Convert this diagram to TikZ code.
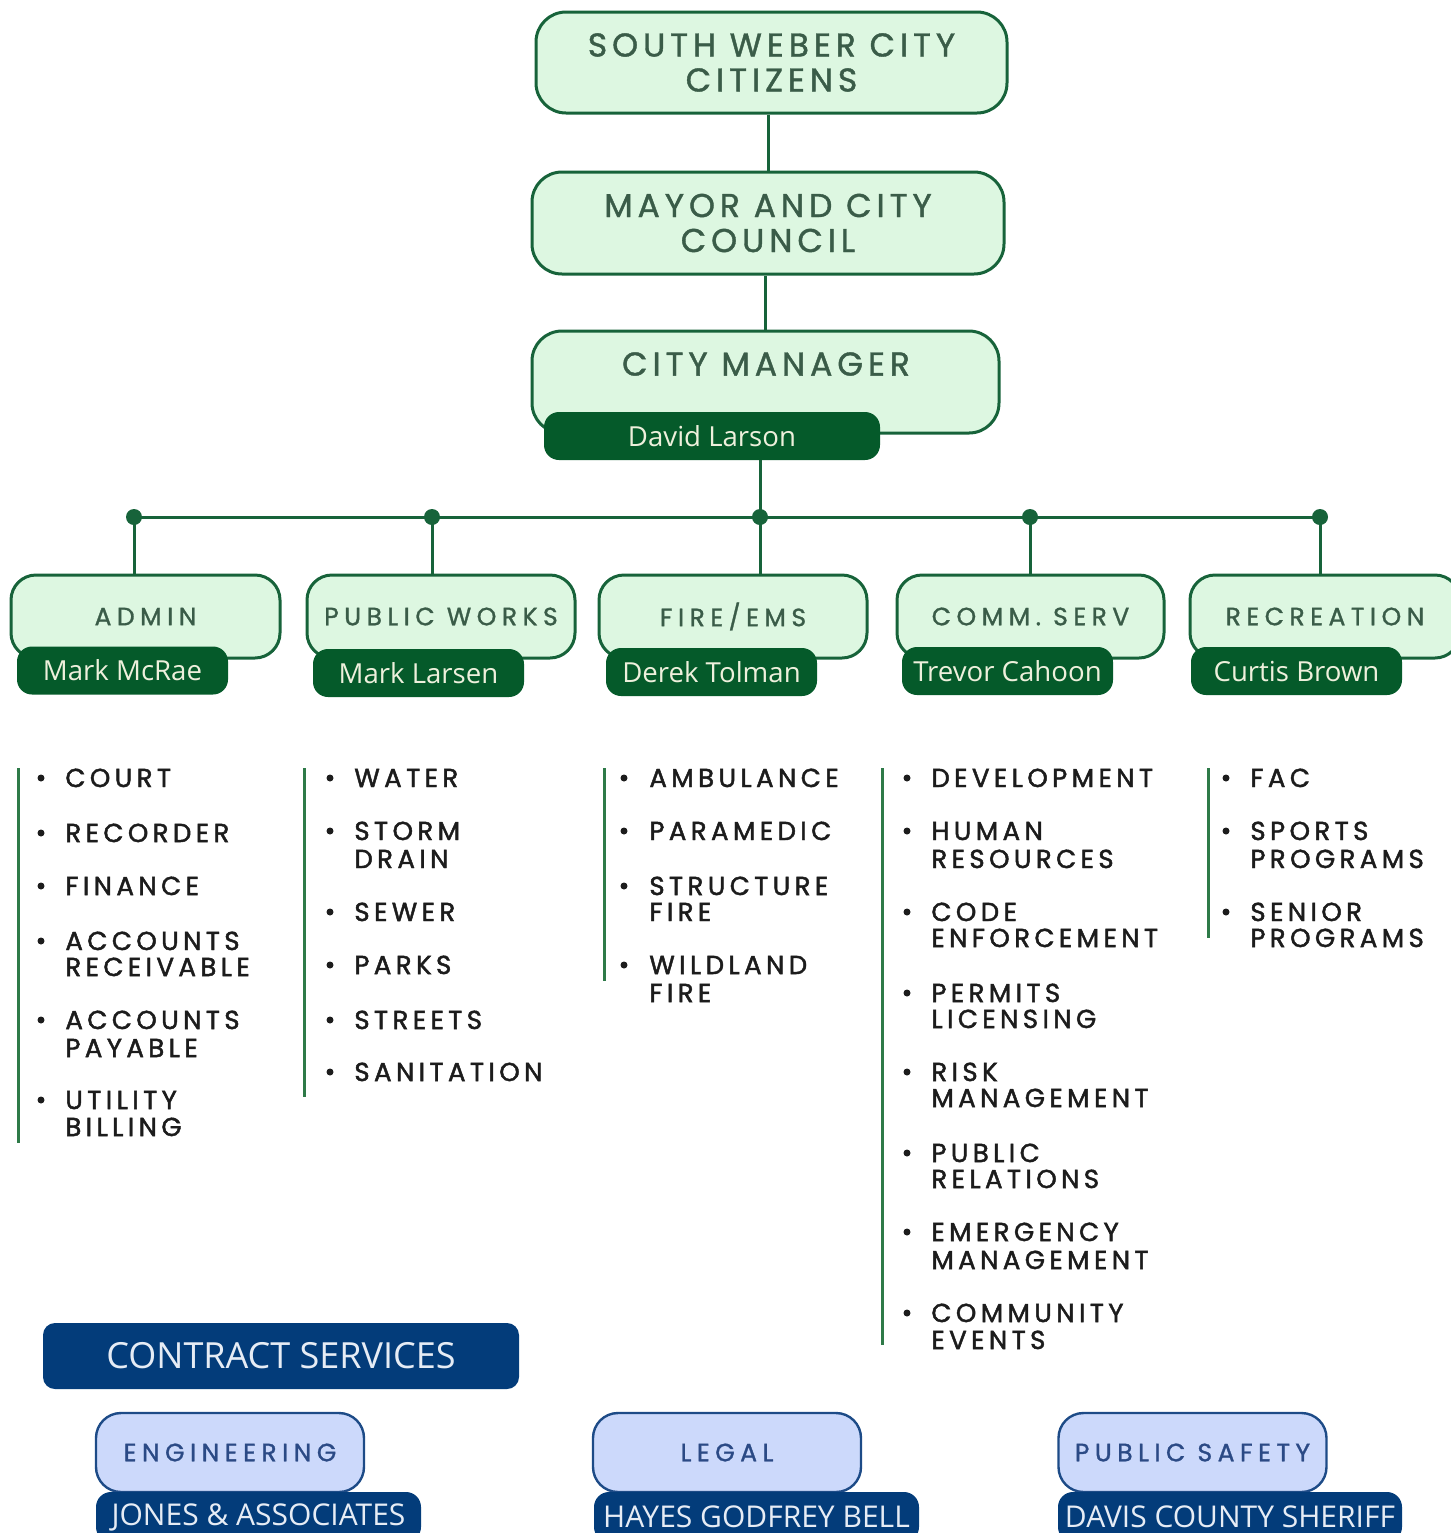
\documentclass[tikz,border=0pt]{standalone}
\usepackage{fontspec}
\setmainfont{Poppins}
\newfontfamily\headf[LetterSpace=15,FakeBold=1.2]{Poppins}
\newfontfamily\deptf[LetterSpace=22,FakeBold=1.2]{Poppins}
\newfontfamily\listf[LetterSpace=17,FakeBold=1.8]{Poppins}
\newfontfamily\namef{Open Sans}
\definecolor{gline}{HTML}{17633A}
\definecolor{gfill}{HTML}{DDF7E1}
\definecolor{gdark}{HTML}{055A2A}
\definecolor{gtext}{HTML}{3A5C48}
\definecolor{ncream}{HTML}{EEF0DC}
\definecolor{ltext}{HTML}{1C1C1C}
\definecolor{lgreen}{HTML}{2E7A48}
\definecolor{navy}{HTML}{033C7A}
\definecolor{bfill}{HTML}{CCD9FB}
\definecolor{bline}{HTML}{1D4B87}
\definecolor{btext}{HTML}{2B4A85}
\definecolor{bcream}{HTML}{E6ECF5}
\newcommand\litem[4]{%
  \node[bull] (bu#1x#3) at (#1,#3) {};
  \node[li] (it#2x#3) at (#2,#3+9) {#4};}
\newcommand\lline[3]{\node[li] (it#1x#2) at (#1,#2+9) {#3};}
\begin{document}
\begin{tikzpicture}[x=0.5pt,y=-0.5pt,
  gbox/.style={draw=gline, fill=gfill, line width=1.5pt, rounded corners=12.5pt, inner sep=0pt},
  tbox/.style={gbox, rounded corners=15pt, align=center, text=gtext, font=\headf\fontsize{16.5}{17.5}\selectfont},
  nbox/.style={fill=gdark, rounded corners=7.5pt, inner sep=0pt, text=ncream, font=\namef\fontsize{13.8}{15}\selectfont, minimum width=105.5pt, minimum height=24pt},
  dtext/.style={text=gtext, font=\deptf\fontsize{12.5}{14}\selectfont},
  li/.style={font=\listf\fontsize{13}{14}\selectfont, text=ltext, anchor=base west, inner sep=0pt},
  bull/.style={circle, fill=ltext, inner sep=0pt, minimum size=3.5pt},
  vline/.style={draw=lgreen, line width=1.5pt},
  conn/.style={draw=gline, line width=1.5pt},
  dot/.style={circle, fill=gline, minimum size=8pt, inner sep=0pt},
  bbox/.style={draw=bline, fill=bfill, line width=1.2pt, rounded corners=12.5pt, inner sep=0pt, text=btext, font=\deptf\fontsize{12.5}{14}\selectfont, minimum width=134pt, minimum height=39.5pt},
  nvbox/.style={fill=navy, rounded corners=7.5pt, inner sep=0pt, text=bcream, font=\namef\fontsize{15}{16}\selectfont}
]
\useasboundingbox (0,0) rectangle (1451,1533);

% top chain
\node[tbox, minimum width=235.5pt, minimum height=50.5pt] (cit) at (771.5,62.5) {SOUTH WEBER CITY\\CITIZENS};
\node[tbox, minimum width=236pt, minimum height=51pt] (may) at (768,223) {MAYOR AND CITY\\COUNCIL};
\node[gbox, rounded corners=15pt, minimum width=233.5pt, minimum height=51pt] (mgr) at (765.5,382) {};
\node[text=gtext, font=\headf\fontsize{16.5}{17.5}\selectfont] (mgrt) at (766,364) {CITY MANAGER};
\node[nbox, minimum width=168pt, minimum height=24pt] (dl) at (712,436) {David Larson};
\draw[conn] (cit.south -| may.north) -- (may.north);
\draw[conn] (may.south -| mgr.north) -- (mgr.north);

% bus
\coordinate (d1) at (134,517);
\coordinate (d2) at (432,517);
\coordinate (d3) at (760,517);
\coordinate (d4) at (1030,517);
\coordinate (d5) at (1320,517);
\draw[conn] (d3) -- (d3 |- dl.south);
\draw[conn] (d1) -- (d5);

% departments
\node[gbox, dtext, minimum width=134.5pt, minimum height=41.5pt] (adm) at (145.5,616.5) {ADMIN};
\node[gbox, dtext, minimum width=134pt, minimum height=41.5pt] (pw) at (441,616.5) {PUBLIC WORKS};
\node[gbox, dtext, minimum width=134pt, minimum height=41.5pt] (fire) at (733,616.5) {FIRE/EMS};
\node[gbox, dtext, minimum width=133.5pt, minimum height=41.5pt] (comm) at (1030.5,616.5) {COMM. SERV};
\node[gbox, dtext, minimum width=135pt, minimum height=41.5pt] (rec) at (1325,616.5) {RECREATION};
\foreach \d/\b in {d1/adm,d2/pw,d3/fire,d4/comm,d5/rec}{
  \draw[conn] (\d) -- (\d |- \b.north);
  \node[dot] at (\d) {};
}
\node[nbox] (n1) at (122.5,670.5) {Mark McRae};
\node[nbox] (n2) at (418.5,673) {Mark Larsen};
\node[nbox] (n3) at (711.5,672) {Derek Tolman};
\node[nbox] (n4) at (1007.5,671) {Trevor Cahoon};
\node[nbox] (n5) at (1296.5,671) {Curtis Brown};

% list lines
\draw[vline] (18,768) -- (18,1143);
\draw[vline] (304,768) -- (304,1097);
\draw[vline] (604,768) -- (604,981);
\draw[vline] (882,768) -- (882,1345);
\draw[vline] (1208,768) -- (1208,938);

% column 1
\litem{41}{65}{778}{COURT}
\litem{41}{65}{833}{RECORDER}
\litem{41}{65}{886}{FINANCE}
\litem{41}{65}{941}{ACCOUNTS}\lline{65}{967}{RECEIVABLE}
\litem{41}{65}{1020}{ACCOUNTS}\lline{65}{1048}{PAYABLE}
\litem{41}{65}{1100}{UTILITY}\lline{65}{1127}{BILLING}
% column 2
\litem{330}{354}{778}{WATER}
\litem{330}{354}{831}{STORM}\lline{354}{859}{DRAIN}
\litem{330}{354}{912}{SEWER}
\litem{330}{354}{965}{PARKS}
\litem{330}{354}{1020}{STREETS}
\litem{330}{354}{1072}{SANITATION}
% column 3
\litem{624}{649}{778}{AMBULANCE}
\litem{624}{649}{831}{PARAMEDIC}
\litem{624}{649}{886}{STRUCTURE}\lline{649}{912}{FIRE}
\litem{624}{649}{965}{WILDLAND}\lline{649}{993}{FIRE}
% column 4
\litem{907}{931}{778}{DEVELOPMENT}
\litem{907}{931}{831}{HUMAN}\lline{931}{859}{RESOURCES}
\litem{907}{931}{912}{CODE}\lline{931}{938}{ENFORCEMENT}
\litem{907}{931}{993}{PERMITS}\lline{931}{1019}{LICENSING}
\litem{907}{931}{1072}{RISK}\lline{931}{1098}{MANAGEMENT}
\litem{907}{931}{1153}{PUBLIC}\lline{931}{1179}{RELATIONS}
\litem{907}{931}{1232}{EMERGENCY}\lline{931}{1260}{MANAGEMENT}
\litem{907}{931}{1313}{COMMUNITY}\lline{931}{1340}{EVENTS}
% column 5
\litem{1226}{1250}{778}{FAC}
\litem{1226}{1250}{831}{SPORTS}\lline{1250}{859}{PROGRAMS}
\litem{1226}{1250}{912}{SENIOR}\lline{1250}{938}{PROGRAMS}

% contract services
\node[nvbox, rounded corners=6pt, minimum width=238pt, minimum height=33pt, font=\namef\fontsize{18}{19}\selectfont] (cs) at (281,1356) {CONTRACT SERVICES};
\node[bbox] (eng) at (230,1452.5) {ENGINEERING};
\node[bbox] (leg) at (727,1452.5) {LEGAL};
\node[bbox] (ps) at (1192.5,1452.5) {PUBLIC SAFETY};
\node[nvbox, minimum width=162.5pt, minimum height=25pt] (jo) at (258.5,1517) {JONES \& ASSOCIATES};
\node[nvbox, minimum width=162.5pt, minimum height=25pt] (ha) at (756.5,1517) {HAYES GODFREY BELL};
\node[nvbox, minimum width=172pt, minimum height=25pt] (da) at (1230,1517) {DAVIS COUNTY SHERIFF};
\end{tikzpicture}
\end{document}
